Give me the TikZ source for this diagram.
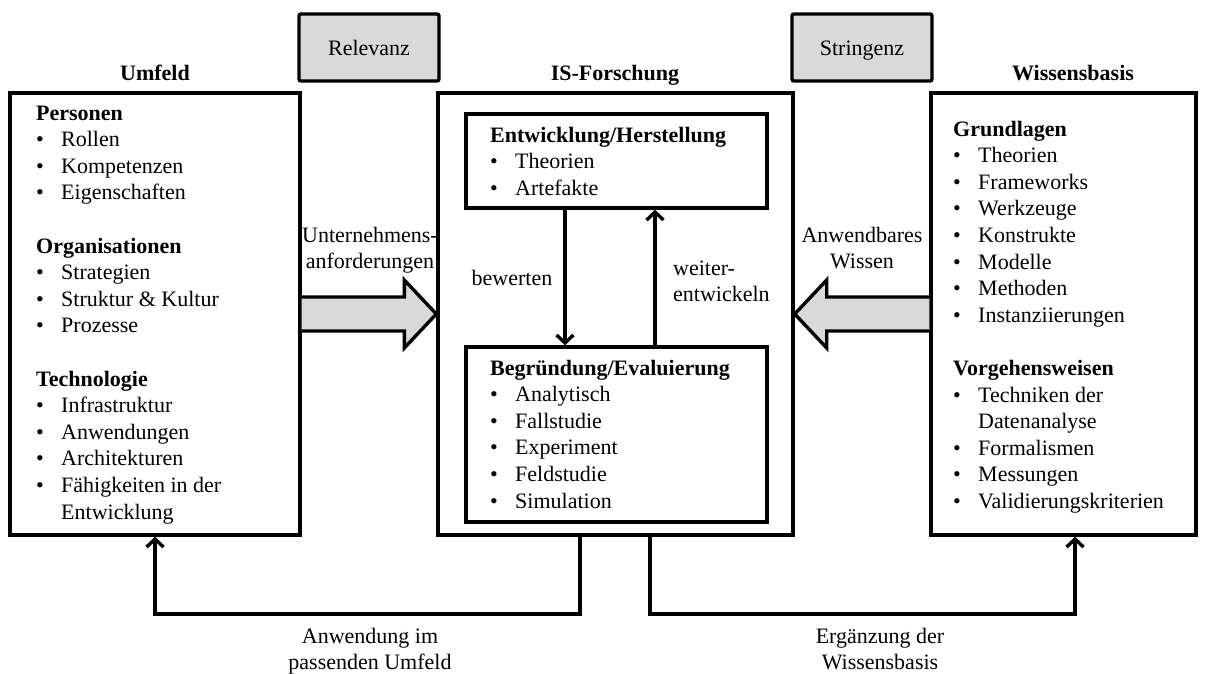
\documentclass[tikz,border=0pt]{standalone}
\usepackage{fontspec}
\setmainfont{Liberation Serif}
\usetikzlibrary{arrows.meta,calc}
\definecolor{boxgray}{HTML}{D9D9D9}

% bullet with a fixed hanging indent
\newcommand{\bul}{\makebox[25pt][l]{\textbullet}}
\newcommand{\ind}{\hspace*{25pt}}

\begin{document}
\begin{tikzpicture}[x=1pt,y=-1pt,
  font=\fontsize{22}{26.6}\selectfont,
  frame/.style={draw, line width=3.4pt, rectangle, inner sep=0pt},
  tag/.style={draw, line width=3.4pt, fill=boxgray, rounded corners=2pt,
    minimum width=140pt, minimum height=67pt, inner sep=0pt,
    text height=15pt, text depth=0pt},
  head/.style={inner sep=0pt, anchor=base, font=\fontsize{22}{26.6}\selectfont\bfseries},
  list/.style={anchor=base west, inner sep=0pt},
  lbl/.style={anchor=base, inner sep=0pt},
  link/.style={line width=3.4pt, -{Straight Barb[length=8pt,width=17pt]}},
  fat/.style={draw, line width=3.4pt, fill=boxgray, line join=miter}
]
\useasboundingbox (0,0) rectangle (1206,673);

% main frames
\node[frame, minimum width=290pt, minimum height=442pt] (umfeld) at (155,314) {};
\node[frame, minimum width=355pt, minimum height=442pt] (is) at (615.5,314) {};
\node[frame, minimum width=265pt, minimum height=442pt] (wissen) at (1063.5,314) {};
\node[frame, minimum width=301pt, minimum height=94pt] (dev) at (616.5,161) {};
\node[frame, minimum width=301pt, minimum height=175pt] (eval) at (616.5,434.5) {};

% grey tags on top
\node[tag] (relevanz) at (369,47.5) {Relevanz};
\node[tag] (stringenz) at (862,47.5) {Stringenz};

% headings
\node[head] (hUmfeld) at (155,80) {Umfeld};
\node[head] (hIS) at (615,80) {IS-Forschung};
\node[head] (hWissen) at (1073,80) {Wissensbasis};

% box contents
\node[list] (ulist) at (36,120) {\begin{tabular}[t]{@{}l@{}}
\textbf{Personen}\\
\bul Rollen\\
\bul Kompetenzen\\
\bul Eigenschaften\\
\\
\textbf{Organisationen}\\
\bul Strategien\\
\bul Struktur \& Kultur\\
\bul Prozesse\\
\\
\textbf{Technologie}\\
\bul Infrastruktur\\
\bul Anwendungen\\
\bul Architekturen\\
\bul Fähigkeiten in der\\
\ind Entwicklung
\end{tabular}};

\node[list] (wlist) at (953,136) {\begin{tabular}[t]{@{}l@{}}
\textbf{Grundlagen}\\
\bul Theorien\\
\bul Frameworks\\
\bul Werkzeuge\\
\bul Konstrukte\\
\bul Modelle\\
\bul Methoden\\
\bul Instanziierungen\\
\\
\textbf{Vorgehensweisen}\\
\bul Techniken der\\
\ind Datenanalyse\\
\bul Formalismen\\
\bul Messungen\\
\bul Validierungskriterien
\end{tabular}};

\node[list] (dlist) at (490,142) {\begin{tabular}[t]{@{}l@{}}
\textbf{Entwicklung/Herstellung}\\
\bul Theorien\\
\bul Artefakte
\end{tabular}};

\node[list] (elist) at (490,375) {\begin{tabular}[t]{@{}l@{}}
\textbf{Begründung/Evaluierung}\\
\bul Analytisch\\
\bul Fallstudie\\
\bul Experiment\\
\bul Feldstudie\\
\bul Simulation
\end{tabular}};

% connector labels
\node[lbl] (lUnt) at (370,242) {\begin{tabular}[t]{@{}c@{}}Unternehmens-\\anforderungen\end{tabular}};
\node[lbl] (lAnw) at (862,242) {\begin{tabular}[t]{@{}c@{}}Anwendbares\\Wissen\end{tabular}};
\node[lbl] (lBew) at (512,285) {bewerten};
\node[list] (lWei) at (673,275) {\begin{tabular}[t]{@{}l@{}}weiter-\\entwickeln\end{tabular}};
\node[lbl] (lUmf) at (370,643) {\begin{tabular}[t]{@{}c@{}}Anwendung im\\passenden Umfeld\end{tabular}};
\node[lbl] (lErg) at (880,643) {\begin{tabular}[t]{@{}c@{}}Ergänzung der\\Wissensbasis\end{tabular}};

% broad grey arrows
\draw[fat] ($(umfeld.east)+(0,-17)$) -- ($(is.west)+(-32,-17)$) -- ($(is.west)+(-32,-34)$)
  -- (is.west) -- ($(is.west)+(-32,34)$) -- ($(is.west)+(-32,17)$) -- ($(umfeld.east)+(0,17)$);
\draw[fat] ($(wissen.west)+(0,-17)$) -- ($(is.east)+(32,-17)$) -- ($(is.east)+(32,-34)$)
  -- (is.east) -- ($(is.east)+(32,34)$) -- ($(is.east)+(32,17)$) -- ($(wissen.west)+(0,17)$);

% inner cycle
\coordinate (xdown) at (565,0);
\coordinate (xup) at (655,0);
\draw[link] (dev.south -| xdown) -- (eval.north -| xdown);
\draw[link] (eval.north -| xup) -- (dev.south -| xup);

% feedback loops below
\coordinate (dl) at (580,614);
\coordinate (dr) at (650,614);
\coordinate (xw) at (1075,0);
\draw[link] (is.south -| dl) -- (dl) -| (umfeld.south);
\draw[link] (is.south -| dr) -- (dr) -| (wissen.south -| xw);
\end{tikzpicture}
\end{document}
